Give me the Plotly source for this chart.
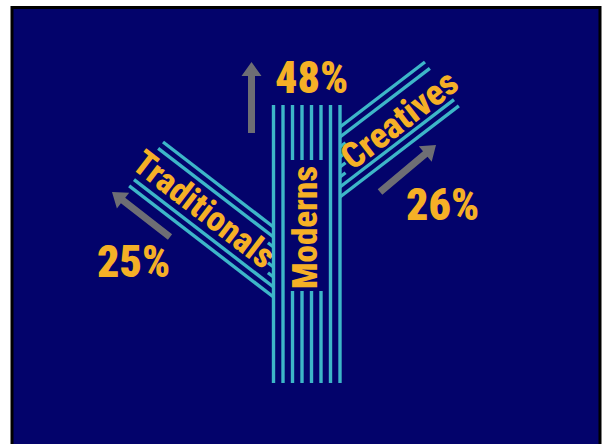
import numpy as np
import plotly.graph_objects as go

# ---- data ----
segments = ["Traditionals", "Moderns", "Creatives"]
shares = [25, 48, 26]

# ---- style / geometry ----
W, H = 602, 444
NAVY = "#03036b"
CYAN = "#3db6c8"
GOLD = "#f5b026"
GREY = "#6e6e74"
FONT = "Roboto, Open Sans, DejaVu Sans, sans-serif"

N = 8
LW = 3.4
stem_x0, stem_dx = 273.5, 9.5
stem_top, stem_bot = 105, 383
gap_top, gap_bot = 160, 291
ang = np.deg2rad(37.6)
c, s = np.cos(ang), np.sin(ang)
vsp = 10.0

shapes = []
shapes.append(dict(type="rect", xref="x", yref="y", x0=12, y0=7.5, x1=600, y1=450,
                   fillcolor=NAVY, line=dict(color="black", width=3), layer="below"))


def seg(p0, p1, color=CYAN, width=LW):
    shapes.append(dict(type="line", xref="x", yref="y", x0=p0[0], y0=p0[1], x1=p1[0], y1=p1[1],
                       line=dict(color=color, width=width)))


# stem
for k in range(N):
    x = stem_x0 + k * stem_dx
    if 2 <= k <= 5:
        seg((x, stem_top), (x, gap_top))
        seg((x, gap_bot), (x, stem_bot))
    else:
        seg((x, stem_top), (x, stem_bot))

stem_x_right = stem_x0 + (N - 1) * stem_dx


def branch(x_start, y0_start, d, n, end0, stub=7):
    for k in range(N):
        p0 = np.array([x_start, y0_start + k * vsp])
        if 2 <= k <= 5:
            p1 = p0 + stub * d
        else:
            p1 = np.array(end0) + k * vsp * c * n
        seg(p0, p1)


# Traditionals (up-left)
dT = np.array([-c, -s]); nT = np.array([-s, c])
branch(stem_x0, 227, dT, nT, (163, 142))
# Creatives (up-right)
dC = np.array([c, -s]); nC = np.array([s, c])
branch(stem_x_right, 127, dC, nC, (425, 62))


def arrow(tail, tip, sw=7, hw=20, hl=14):
    tail = np.array(tail, float); tip = np.array(tip, float)
    d = (tip - tail) / np.linalg.norm(tip - tail)
    n = np.array([-d[1], d[0]])
    base = tip - hl * d
    pts = [tail + n * sw / 2, base + n * sw / 2, base + n * hw / 2, tip,
           base - n * hw / 2, base - n * sw / 2, tail - n * sw / 2]
    path = "M " + " L ".join(f"{p[0]:.1f},{p[1]:.1f}" for p in pts) + " Z"
    shapes.append(dict(type="path", xref="x", yref="y", path=path, fillcolor=GREY,
                       line=dict(width=0)))


arrow((251.5, 133), (251.5, 62))
arrow((170, 237), (112, 192))
arrow((380, 192), (436, 145))

annotations = []


def label(x, y, text, size, angle=0, weight=800):
    annotations.append(dict(x=x, y=y, xref="x", yref="y",
                            text=f'<span style="font-stretch:condensed;font-weight:{weight}">{text}</span>',
                            showarrow=False, textangle=angle, xanchor="center", yanchor="middle",
                            font=dict(family=FONT, size=size, color=GOLD, weight=weight)))


# segment names
midT = np.array([stem_x0, 227 + 3.5 * vsp]) + 88 * dT
midC = np.array([stem_x_right, 127 + 3.5 * vsp]) + 76 * dC
label(midT[0], midT[1] + 1, segments[0], 35, np.rad2deg(ang))
label(305, 228, segments[1], 35, -90)
label(midC[0] - 1, midC[1] + 4, segments[2], 36, -np.rad2deg(ang))

# shares
label(133, 262, f"{shares[0]}%", 44, weight=900)
label(311, 78, f"{shares[1]}%", 44, weight=900)
label(442, 205, f"{shares[2]}%", 44, weight=900)

fig = go.Figure()
fig.update_layout(
    width=W, height=H, margin=dict(l=0, r=0, t=0, b=0),
    paper_bgcolor="white", plot_bgcolor="white",
    xaxis=dict(range=[0, W], visible=False, fixedrange=True),
    yaxis=dict(range=[H, 0], visible=False, fixedrange=True),
    shapes=shapes, annotations=annotations, showlegend=False,
)
fig.write_html("out.html", include_plotlyjs=True, config={"displayModeBar": False})
